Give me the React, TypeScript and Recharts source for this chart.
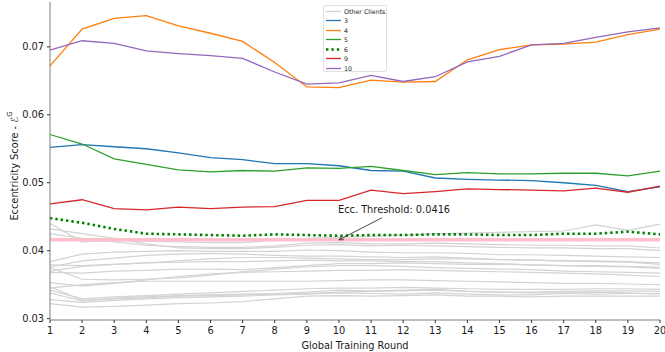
import React from 'react'
import { LineChart, Line, XAxis, YAxis, ReferenceLine, ReferenceDot } from 'recharts'

const ROUNDS = [1, 2, 3, 4, 5, 6, 7, 8, 9, 10, 11, 12, 13, 14, 15, 16, 17, 18, 19, 20]
const Y_TICKS = [0.03, 0.04, 0.05, 0.06, 0.07]
const THRESHOLD = 0.0416
const THRESHOLD_ROUND = 10

// highlighted clients
const CLIENT_3 = [0.0552, 0.0556, 0.0553, 0.055, 0.0544, 0.0537, 0.0534, 0.0528, 0.0528, 0.0525, 0.0518, 0.0517, 0.0507, 0.0505, 0.0504, 0.0503, 0.05, 0.0496, 0.0487, 0.0494]
const CLIENT_4 = [0.0672, 0.0726, 0.0742, 0.0746, 0.0731, 0.072, 0.0708, 0.0677, 0.0641, 0.064, 0.0651, 0.0648, 0.0649, 0.0681, 0.0696, 0.0703, 0.0704, 0.0707, 0.0718, 0.0726]
const CLIENT_5 = [0.0571, 0.0557, 0.0535, 0.0527, 0.0519, 0.0516, 0.0518, 0.0517, 0.0522, 0.0521, 0.0524, 0.0518, 0.0512, 0.0515, 0.0513, 0.0513, 0.0514, 0.0514, 0.051, 0.0517]
const CLIENT_6 = [0.0448, 0.0441, 0.0432, 0.0425, 0.0424, 0.0423, 0.0422, 0.0424, 0.0423, 0.0422, 0.0423, 0.0423, 0.0424, 0.0424, 0.0423, 0.0423, 0.0425, 0.0425, 0.0428, 0.0424]
const CLIENT_9 = [0.0469, 0.0475, 0.0462, 0.046, 0.0464, 0.0462, 0.0464, 0.0465, 0.0474, 0.0474, 0.0489, 0.0484, 0.0487, 0.0491, 0.049, 0.0489, 0.0488, 0.0492, 0.0486, 0.0495]
const CLIENT_10 = [0.0695, 0.0709, 0.0705, 0.0694, 0.069, 0.0687, 0.0683, 0.0663, 0.0645, 0.0647, 0.0658, 0.0649, 0.0656, 0.0678, 0.0686, 0.0703, 0.0705, 0.0714, 0.0722, 0.0728]

// the rest of the clients, drawn in light gray
const OTHER_CLIENTS = [
  [0.044, 0.0413, 0.0415, 0.0414, 0.0413, 0.0412, 0.0412, 0.0415, 0.0418, 0.042, 0.0421, 0.0423, 0.0425, 0.0426, 0.0427, 0.0428, 0.0429, 0.0438, 0.043, 0.0439],
  [0.0432, 0.0425, 0.0418, 0.041, 0.0404, 0.0403, 0.0403, 0.0405, 0.0408, 0.0409, 0.0407, 0.0408, 0.0407, 0.0406, 0.0405, 0.0404, 0.0404, 0.0403, 0.0403, 0.04],
  [0.0425, 0.0418, 0.0413, 0.0408, 0.0406, 0.0405, 0.0405, 0.0407, 0.0411, 0.0412, 0.041, 0.041, 0.0411, 0.041, 0.0409, 0.0408, 0.0408, 0.0407, 0.0407, 0.0404],
  [0.0384, 0.0395, 0.0398, 0.0399, 0.04, 0.0399, 0.0399, 0.0399, 0.0401, 0.04, 0.0398, 0.0397, 0.0397, 0.0396, 0.0394, 0.0394, 0.0393, 0.0392, 0.0391, 0.039],
  [0.0376, 0.0385, 0.0389, 0.0393, 0.0395, 0.0396, 0.0395, 0.0393, 0.0392, 0.0392, 0.0391, 0.039, 0.0391, 0.0389, 0.0387, 0.0386, 0.0385, 0.0385, 0.0384, 0.0382],
  [0.0379, 0.0378, 0.038, 0.0382, 0.0385, 0.0388, 0.039, 0.039, 0.0389, 0.0388, 0.0387, 0.0387, 0.0388, 0.0388, 0.0387, 0.0386, 0.0385, 0.0384, 0.0383, 0.038],
  [0.037, 0.0377, 0.038, 0.0382, 0.0383, 0.0384, 0.0384, 0.0385, 0.0386, 0.0385, 0.0385, 0.0384, 0.0384, 0.0382, 0.0381, 0.0379, 0.0378, 0.0377, 0.0376, 0.0374],
  [0.0368, 0.0367, 0.037, 0.0371, 0.0373, 0.0373, 0.0372, 0.0375, 0.0378, 0.0381, 0.0381, 0.0382, 0.0381, 0.038, 0.038, 0.0379, 0.0378, 0.0378, 0.0377, 0.0376],
  [0.0375, 0.0358, 0.0357, 0.0358, 0.036, 0.0364, 0.0369, 0.0373, 0.0376, 0.0378, 0.0378, 0.0377, 0.0375, 0.0374, 0.0373, 0.0372, 0.037, 0.0369, 0.0368, 0.0367],
  [0.0353, 0.0348, 0.0352, 0.0357, 0.0362, 0.0366, 0.0368, 0.0369, 0.037, 0.0371, 0.0371, 0.0372, 0.0371, 0.037, 0.0369, 0.0368, 0.0367, 0.0366, 0.0364, 0.0362],
  [0.0345, 0.035, 0.0353, 0.0355, 0.0355, 0.0355, 0.0355, 0.0355, 0.0355, 0.0356, 0.0357, 0.0357, 0.0356, 0.0355, 0.0354, 0.0353, 0.0352, 0.0352, 0.0351, 0.035],
  [0.0347, 0.0327, 0.0329, 0.0331, 0.0333, 0.0334, 0.0335, 0.0336, 0.0337, 0.0339, 0.034, 0.0341, 0.0342, 0.034, 0.0339, 0.0338, 0.0338, 0.0339, 0.0338, 0.0336],
  [0.0342, 0.0329, 0.0332, 0.0334, 0.0336, 0.0338, 0.034, 0.0342, 0.0344, 0.0345, 0.0345, 0.0346, 0.0345, 0.0344, 0.0343, 0.0343, 0.0343, 0.0344, 0.0344, 0.0343],
  [0.0338, 0.0326, 0.033, 0.0332, 0.0334, 0.0335, 0.0336, 0.0337, 0.0339, 0.0342, 0.0341, 0.0342, 0.0343, 0.034, 0.0339, 0.0339, 0.034, 0.0341, 0.0341, 0.034],
  [0.0328, 0.0324, 0.0327, 0.0329, 0.0331, 0.0332, 0.0333, 0.0335, 0.0336, 0.0338, 0.0337, 0.0336, 0.0338, 0.0336, 0.0335, 0.0335, 0.0337, 0.0336, 0.0337, 0.0337],
  [0.0322, 0.0317, 0.0318, 0.032, 0.0322, 0.0323, 0.0325, 0.0329, 0.0333, 0.0334, 0.0333, 0.0334, 0.0335, 0.0333, 0.0333, 0.0332, 0.0333, 0.0333, 0.0333, 0.0333],
]

const HIGHLIGHTED = [
  { key: 'c3', name: '3', values: CLIENT_3, color: '#1f77b4', dash: undefined, width: 1.3 },
  { key: 'c4', name: '4', values: CLIENT_4, color: '#ff7f0e', dash: undefined, width: 1.3 },
  { key: 'c5', name: '5', values: CLIENT_5, color: '#2ca02c', dash: undefined, width: 1.3 },
  { key: 'c6', name: '6', values: CLIENT_6, color: '#008000', dash: '2.4 3', width: 2.6 },
  { key: 'c9', name: '9', values: CLIENT_9, color: '#d62728', dash: undefined, width: 1.3 },
  { key: 'c10', name: '10', values: CLIENT_10, color: '#9467bd', dash: undefined, width: 1.3 },
]

const OTHER_COLOR = '#d3d3d3'
const FONT = '"DejaVu Sans", sans-serif'
const TEXT = '#1a1a1a'
const SPINE = '#7f7f7f'

const rows = ROUNDS.map((round, i) => {
  const row: Record<string, number> = { round }
  OTHER_CLIENTS.forEach((vals, j) => (row['o' + j] = vals[i]))
  HIGHLIGHTED.forEach((s) => (row[s.key] = s.values[i]))
  return row
})

function YLabel({ viewBox }: any) {
  const cy = viewBox.y + viewBox.height / 2 + 5
  return (
    <text x={14} y={cy} transform={`rotate(-90, 14, ${cy})`} textAnchor="middle" dominantBaseline="central" fontSize={9.8} fill={TEXT} fontFamily={FONT}>
      Eccentricity Score - <tspan fontStyle="italic">ℰ</tspan>
      <tspan fontSize={7} dy={-4}>G</tspan>
    </text>
  )
}

function ThresholdNote({ cx, cy }: any) {
  const tx = cx + 43
  const ty = cy - 22
  const ang = Math.atan2(ty - cy, tx - cx)
  const head = 5
  const a1 = ang + 0.45
  const a2 = ang - 0.45
  return (
    <g>
      <text x={cx - 1} y={cy - 27} fontSize={9.8} fill={TEXT} fontFamily={FONT}>
        {'Ecc. Threshold: ' + THRESHOLD}
      </text>
      <line x1={tx} y1={ty} x2={cx} y2={cy} stroke="#333" strokeWidth={0.9} />
      <polyline
        points={`${cx + head * Math.cos(a1)},${cy + head * Math.sin(a1)} ${cx},${cy} ${cx + head * Math.cos(a2)},${cy + head * Math.sin(a2)}`}
        fill="none"
        stroke="#333"
        strokeWidth={0.9}
      />
    </g>
  )
}

function LegendBox() {
  const items = [{ name: 'Other Clients', color: OTHER_COLOR, dash: undefined as string | undefined, width: 1.3 }, ...HIGHLIGHTED]
  return (
    <div
      style={{
        position: 'absolute',
        left: 323,
        top: 5,
        width: 64,
        height: 67,
        border: '1px solid #e0e0e0',
        borderRadius: 2,
        background: 'rgba(255,255,255,0.8)',
        boxSizing: 'border-box',
        fontFamily: FONT,
        fontSize: 6.3,
        color: TEXT,
      }}
    >
      {items.map((it, i) => (
        <div key={it.name} style={{ position: 'absolute', left: 2, top: 1 + i * 9.45, height: 9, display: 'flex', alignItems: 'center' }}>
          <svg width={17} height={9} style={{ display: 'block' }}>
            <line x1={0} x2={15} y1={4.5} y2={4.5} stroke={it.color} strokeWidth={it.width} strokeDasharray={it.dash} />
          </svg>
          <span style={{ marginLeft: 1, whiteSpace: 'nowrap' }}>{it.name}</span>
        </div>
      ))}
    </div>
  )
}

export default function App() {
  return (
    <div style={{ position: 'absolute', left: 0, top: 0, width: 665, height: 352, background: '#fff' }}>
      <LineChart width={665} height={352} data={rows} margin={{ top: 2, right: 5, bottom: 0, left: 0 }} style={{ fontFamily: FONT }}>
        <XAxis
          dataKey="round"
          type="number"
          domain={[1, 20]}
          ticks={ROUNDS}
          height={32}
          stroke={SPINE}
          tickSize={3}
          tickMargin={4}
          tickLine={{ stroke: '#333' }}
          tick={{ fontSize: 9.8, fill: TEXT }}
          label={{ value: 'Global Training Round', position: 'insideBottom', offset: 3, fontSize: 9.8, fill: TEXT }}
        />
        <XAxis xAxisId="top" orientation="top" type="number" domain={[1, 20]} height={0} tick={false} tickLine={false} stroke={SPINE} />
        <YAxis
          type="number"
          domain={[0.0298, 0.0766]}
          allowDataOverflow
          ticks={Y_TICKS}
          width={50}
          stroke={SPINE}
          tickSize={3}
          tickMargin={3}
          tickLine={{ stroke: '#333' }}
          tick={{ fontSize: 9.8, fill: TEXT }}
          tickFormatter={(v: number) => v.toFixed(2)}
          label={<YLabel />}
        />
        <YAxis yAxisId="right" orientation="right" width={0} tick={false} tickLine={false} stroke={SPINE} />
        {OTHER_CLIENTS.map((_, j) => (
          <Line key={'o' + j} dataKey={'o' + j} stroke={OTHER_COLOR} strokeWidth={1.2} dot={false} activeDot={false} isAnimationActive={false} />
        ))}
        <ReferenceLine y={THRESHOLD} stroke="#ffc0cb" strokeWidth={3.5} />
        {HIGHLIGHTED.map((s) => (
          <Line
            key={s.key}
            dataKey={s.key}
            name={s.name}
            stroke={s.color}
            strokeWidth={s.width}
            strokeDasharray={s.dash}
            dot={false}
            activeDot={false}
            isAnimationActive={false}
          />
        ))}
        <ReferenceDot x={THRESHOLD_ROUND} y={THRESHOLD} r={0} shape={(p: any) => <ThresholdNote cx={p.cx} cy={p.cy} />} />
      </LineChart>
      <LegendBox />
    </div>
  )
}
